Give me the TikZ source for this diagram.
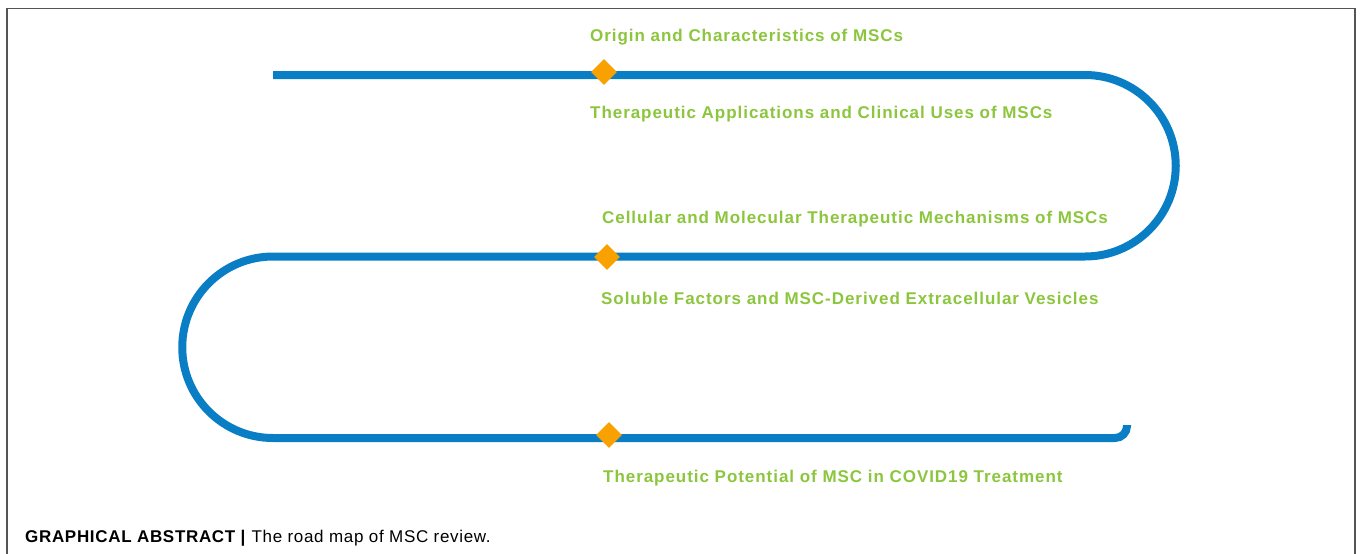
\documentclass[tikz,border=0pt]{standalone}
\usepackage{fontspec}
\setmainfont{Liberation Sans}
\newfontfamily\labelfont[LetterSpace=5.6]{Liberation Sans}
\newfontfamily\capfont[LetterSpace=4]{Liberation Sans}
\definecolor{roadblue}{HTML}{0A7EC4}
\definecolor{mgreen}{HTML}{8CC63E}
\definecolor{morange}{HTML}{F9A100}
\definecolor{framegray}{HTML}{555555}
\usetikzlibrary{shapes.geometric}
\tikzset{
  road/.style={draw=roadblue, line width=8pt},
  milestone/.style={fill=morange, draw=none, minimum width=26pt, minimum height=26pt, inner sep=0pt, shape=diamond},
  label/.style={text=mgreen, font=\labelfont\bfseries\fontsize{17}{20}\selectfont, anchor=base west, inner sep=0pt},
}
\begin{document}
\begin{tikzpicture}[x=1pt,y=-1pt]
\useasboundingbox (0,0) rectangle (1360,554);
\fill[white] (0,0) rectangle (1360,554);
\draw[framegray, line width=1.5pt] (7,560) -- (7,8.5) -- (1355,8.5) -- (1355,560);
% road
\coordinate (start) at (273,75);
\coordinate (endtop) at (1085,75);
\coordinate (midl) at (273,256.5);
\coordinate (botr) at (1115,438);
\draw[road] (start) -- (endtop) arc[start angle=-90, end angle=90, radius=90.75] -- (midl) arc[start angle=270, end angle=90, radius=90.75] -- (botr) arc[start angle=90, end angle=0, radius=12] -- ++(0,-1);
% milestones
\node[milestone] (m1) at (604,72) {};
\node[milestone] (m2) at (607,257) {};
\node[milestone] (m3) at (609,435) {};
% labels
\node[label] (t1) at (590,41) {Origin and Characteristics of MSCs};
\node[label] (t2) at (590,118) {Therapeutic Applications and Clinical Uses of MSCs};
\node[label] (t3) at (602,223) {Cellular and Molecular Therapeutic Mechanisms of MSCs};
\node[label] (t4) at (601,304) {Soluble Factors and MSC-Derived Extracellular Vesicles};
\node[label] (t5) at (603,482) {Therapeutic Potential of MSC in COVID19 Treatment};
% caption
\node[anchor=base west, inner sep=0pt, font=\capfont\fontsize{17}{20}\selectfont] (cap) at (25,542.3) {\textbf{GRAPHICAL ABSTRACT |} The road map of MSC review.};
\end{tikzpicture}
\end{document}
